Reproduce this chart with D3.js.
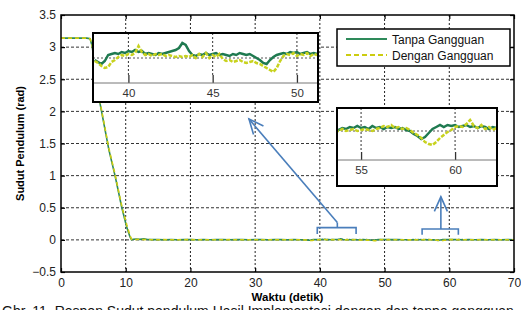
<!DOCTYPE html>
<html>
<head>
<meta charset="utf-8">
<script src="https://cdn.jsdelivr.net/npm/d3@7"></script>
<style>
  body { margin: 0; background: #fff; }
  svg { display: block; font-family: Arial, "Liberation Sans", sans-serif; }
</style>
</head>
<body>
<svg id="chart" width="521" height="310"></svg>
<script>
// ---- data (rad) ----
// transient: pendulum falls from pi to 0
var tDrop = [0, 4.0, 4.5, 4.8, 5.2, 6.0, 6.7, 7.4, 8.35, 9.4, 10.15, 10.65, 10.9, 11.2, 11.6, 12.2, 12.8, 13.4, 14.0];
var greenDrop = [3.14, 3.14, 3.13, 3.02, 2.75, 2.14, 1.77, 1.40, 1.00, 0.50, 0.20, 0.05, 0.00, 0.01, 0.012, 0.008, 0.015, 0.005, 0.004];
var yellowDrop = [3.14, 3.14, 3.13, 3.04, 2.78, 2.16, 1.79, 1.42, 1.02, 0.52, 0.24, 0.07, 0.01, 0.00, 0.005, 0.01, 0.004, 0.008, 0.002];

// steady part, sparse samples
var tTailA = [15, 16, 17, 18, 19, 20, 21, 22, 23, 24, 25, 26, 27, 28, 29, 30, 31, 32, 33, 34, 35, 36, 37];
var greenTailA = [0.004, 0.003, 0.005, 0.002, 0.004, 0.006, 0.003, 0.004, 0.002, 0.005, 0.004, 0.003, 0.006, 0.004, 0.003, 0.005, 0.004, 0.002, 0.004, 0.005, 0.003, 0.004, 0.002];
var yellowTailA = [0.002, 0.004, 0.001, 0.003, 0.002, 0.004, 0.001, 0.002, 0.003, 0.001, 0.002, 0.004, 0.002, 0.001, 0.003, 0.002, 0.001, 0.003, 0.002, 0.001, 0.002, 0.003, 0.001];

// zoomed window 1 (t = 38.0 .. 51.2, step 0.2)
var tZoom1 = [38.0, 38.2, 38.4, 38.6, 38.8, 39.0, 39.2, 39.4, 39.6, 39.8, 40.0, 40.2, 40.4, 40.6, 40.8, 41.0, 41.2, 41.4, 41.6, 41.8,
  42.0, 42.2, 42.4, 42.6, 42.8, 43.0, 43.2, 43.4, 43.6, 43.8, 44.0, 44.2, 44.4, 44.6, 44.8, 45.0, 45.2, 45.4, 45.6, 45.8,
  46.0, 46.2, 46.4, 46.6, 46.8, 47.0, 47.2, 47.4, 47.6, 47.8, 48.0, 48.2, 48.4, 48.6, 48.8, 49.0, 49.2, 49.4, 49.6, 49.8,
  50.0, 50.2, 50.4, 50.6, 50.8, 51.0, 51.2];
var greenZoom1 = [-0.002, -0.004, -0.006, -0.003, 0.003, 0.004, 0.005, 0.004, 0.006, 0.005, 0.007, 0.006, 0.008, 0.006, 0.007, 0.004, 0.005, 0.004, 0.003, 0.005,
  0.004, 0.005, 0.006, 0.007, 0.008, 0.010, 0.015, 0.013, 0.007, 0.003, 0.002, 0.004, 0.003, 0.005, 0.003, 0.004, 0.005, 0.003, 0.004, 0.003,
  0.002, 0.004, 0.003, 0.005, 0.004, 0.003, 0.004, 0.002, 0.000, -0.002, -0.005, -0.006, -0.002, 0.001, 0.003, 0.004, 0.005, 0.004, 0.006, 0.005,
  0.006, 0.004, 0.005, 0.006, 0.004, 0.005, 0.004];
var yellowZoom1 = [-0.003, -0.005, -0.008, -0.010, -0.009, -0.004, -0.002, 0.001, 0.003, 0.002, 0.004, 0.003, 0.005, 0.012, 0.006, 0.003, 0.004, 0.002, 0.004, 0.003,
  0.004, 0.002, 0.003, 0.002, 0.001, 0.002, 0.001, 0.002, 0.001, 0.003, 0.000, 0.004, 0.001, 0.005, 0.000, 0.003, 0.001, 0.004, -0.001, -0.003,
  -0.002, -0.004, -0.003, -0.002, -0.004, -0.005, -0.004, -0.003, -0.005, -0.006, -0.008, -0.010, -0.012, -0.014, -0.010, -0.003, 0.002, 0.004, 0.003, 0.005,
  0.002, 0.004, 0.003, 0.005, 0.002, 0.004, 0.003];

var tTailB = [52, 53];
var greenTailB = [0.004, 0.003];
var yellowTailB = [0.002, 0.001];

// zoomed window 2 (t = 53.6 .. 62.2, step 0.2)
var tZoom2 = [53.6, 53.8, 54.0, 54.2, 54.4, 54.6, 54.8, 55.0, 55.2, 55.4, 55.6, 55.8, 56.0, 56.2, 56.4, 56.6, 56.8, 57.0, 57.2, 57.4,
  57.6, 57.8, 58.0, 58.2, 58.4, 58.6, 58.8, 59.0, 59.2, 59.4, 59.6, 59.8, 60.0, 60.2, 60.4, 60.6, 60.8, 61.0, 61.2, 61.4,
  61.6, 61.8, 62.0, 62.2];
var greenZoom2 = [0.002, 0.001, 0.003, 0.002, 0.004, 0.003, 0.005, 0.003, 0.004, 0.002, 0.005, 0.003, 0.004, 0.002, 0.004, 0.003, 0.004, 0.002, 0.003, 0.001,
  0.000, -0.003, -0.005, -0.008, -0.006, -0.002, 0.002, 0.004, 0.006, 0.004, 0.006, 0.005, 0.006, 0.004, 0.005, 0.006, 0.004, 0.005, 0.003, 0.005,
  0.004, 0.002, 0.004, 0.003];
var yellowZoom2 = [0.001, 0.000, 0.002, 0.000, 0.001, 0.002, 0.000, 0.001, 0.002, 0.001, 0.000, 0.002, 0.003, 0.005, 0.004, 0.006, 0.003, 0.004, 0.002, 0.003,
  0.001, -0.002, -0.004, -0.007, -0.011, -0.013, -0.014, -0.011, -0.007, -0.004, -0.001, 0.001, 0.004, 0.005, 0.004, 0.007, 0.011, 0.005, 0.003, 0.006,
  0.002, 0.004, 0.001, 0.003];

var tTailC = [63, 64, 65, 66, 67, 68, 69, 70];
var greenTailC = [0.004, 0.003, 0.005, 0.002, 0.004, 0.003, 0.004, 0.003];
var yellowTailC = [0.002, 0.001, 0.003, 0.001, 0.002, 0.003, 0.001, 0.002];

var xTicks = [0, 10, 20, 30, 40, 50, 60, 70];
var yTicks = [-0.5, 0, 0.5, 1, 1.5, 2, 2.5, 3, 3.5];
var zoom1Ticks = [40, 45, 50];
var zoom2Ticks = [55, 60];
var seriesNames = ["Tanpa Gangguan", "Dengan Gangguan"];

var green = "#2e8a5a", yellow = "#cccc10", blue = "#4a7ebb";

function pairs(t, v) { return t.map(function(d, i) { return [d, v[i]]; }); }

var greenData = [].concat(pairs(tDrop, greenDrop), pairs(tTailA, greenTailA), pairs(tZoom1, greenZoom1),
  pairs(tTailB, greenTailB), pairs(tZoom2, greenZoom2), pairs(tTailC, greenTailC));
var yellowData = [].concat(pairs(tDrop, yellowDrop), pairs(tTailA, yellowTailA), pairs(tZoom1, yellowZoom1),
  pairs(tTailB, yellowTailB), pairs(tZoom2, yellowZoom2), pairs(tTailC, yellowTailC));

var svg = d3.select("#chart");

// main axes
var x = d3.scaleLinear().domain([0, 70]).range([61, 514]);
var y = d3.scaleLinear().domain([-0.5, 3.5]).range([272, 15]);

var grid = svg.append("g");
grid.selectAll(".gx").data(xTicks.slice(1, -1)).enter().append("line")
  .attr("x1", function(d) { return x(d); }).attr("x2", function(d) { return x(d); })
  .attr("y1", y(3.5)).attr("y2", y(-0.5))
  .attr("stroke", "#222").attr("stroke-dasharray", "2,2");
grid.selectAll(".gy").data(yTicks.slice(1, -1)).enter().append("line")
  .attr("x1", x(0)).attr("x2", x(70))
  .attr("y1", function(d) { return y(d); }).attr("y2", function(d) { return y(d); })
  .attr("stroke", "#333").attr("stroke-dasharray", "3,2");

var line = d3.line().x(function(d) { return x(d[0]); }).y(function(d) { return y(d[1]); });

svg.append("path").datum(greenData).attr("d", line)
  .attr("fill", "none").attr("stroke", green).attr("stroke-width", 1.6);
svg.append("path").datum(yellowData).attr("d", line)
  .attr("fill", "none").attr("stroke", yellow).attr("stroke-width", 1.6).attr("stroke-dasharray", "4,3");

// axis frame with inward ticks
function styleAxis(g) {
  g.select(".domain").remove();
  g.selectAll(".tick line").attr("stroke", "#000").attr("stroke-width", 1.2);
  g.selectAll("text").attr("fill", "#222").style("font-size", "12px");
}
svg.append("g").attr("transform", "translate(0," + y(-0.5) + ")")
  .call(d3.axisBottom(x).tickValues(xTicks).tickSizeInner(-4).tickSizeOuter(0).tickPadding(6))
  .call(styleAxis);
svg.append("g").attr("transform", "translate(0," + y(3.5) + ")")
  .call(d3.axisTop(x).tickValues(xTicks).tickSizeInner(-4).tickSizeOuter(0).tickFormat(""))
  .call(styleAxis);
svg.append("g").attr("transform", "translate(" + x(0) + ",0)")
  .call(d3.axisLeft(y).tickValues(yTicks).tickSizeInner(-4).tickSizeOuter(0).tickPadding(5).tickFormat(d3.format("")))
  .call(styleAxis);
svg.append("g").attr("transform", "translate(" + x(70) + ",0)")
  .call(d3.axisRight(y).tickValues(yTicks).tickSizeInner(-4).tickSizeOuter(0).tickFormat(""))
  .call(styleAxis);
svg.append("rect").attr("x", x(0)).attr("y", y(3.5))
  .attr("width", x(70) - x(0)).attr("height", y(-0.5) - y(3.5))
  .attr("fill", "none").attr("stroke", "#000").attr("stroke-width", 1.5);

svg.append("text").attr("x", (x(0) + x(70)) / 2).attr("y", 301)
  .attr("text-anchor", "middle").style("font-size", "11.5px").style("font-weight", "bold")
  .text("Waktu (detik)");
svg.append("text").attr("transform", "translate(24," + (y(3.5) + y(-0.5)) / 2 + ") rotate(-90)")
  .attr("text-anchor", "middle").style("font-size", "11px").style("font-weight", "bold")
  .text("Sudut Pendulum (rad)");

// caption, cut off by the bottom edge as in the source figure
svg.append("text").attr("x", 2).attr("y", 316)
  .style("font-size", "14px").attr("fill", "#111")
  .text("Gbr. 11. Respon Sudut pendulum Hasil Implementasi dengan dan tanpa gangguan");

// annotations (data units)
var bracket1 = { x0: 39.6, x1: 45.6, xm: 42.7, y: 0.19, yEnd: 0.09, yTop: 0.27 };
var bracket2 = { x0: 55.8, x1: 61.4, xm: 58.7, y: 0.17, yEnd: 0.08 };
var arrow1 = { from: [42.7, 0.27], to: [29.05, 1.88] };
var arrow2 = { from: [58.7, 0.17], to: [58.7, 0.67] };

var ann = svg.append("g").attr("stroke", blue).attr("stroke-width", 1.6).attr("fill", "none");
[bracket1, bracket2].forEach(function(b) {
  ann.append("path").attr("d",
    "M" + x(b.x0) + "," + y(b.yEnd) + "V" + y(b.y) + "H" + x(b.x1) + "V" + y(b.yEnd) +
    (b.yTop ? "M" + x(b.xm) + "," + y(b.y) + "V" + y(b.yTop) : ""));
});
function arrow(a) {
  var x1 = x(a.from[0]), y1 = y(a.from[1]), x2 = x(a.to[0]), y2 = y(a.to[1]);
  var ang = Math.atan2(y1 - y2, x1 - x2), len = 16, spread = 0.42;
  ann.append("line").attr("x1", x1).attr("y1", y1).attr("x2", x2).attr("y2", y2);
  ann.append("path").attr("d",
    "M" + (x2 + len * Math.cos(ang + spread)) + "," + (y2 + len * Math.sin(ang + spread)) +
    "L" + x2 + "," + y2 +
    "L" + (x2 + len * Math.cos(ang - spread)) + "," + (y2 + len * Math.sin(ang - spread)));
}
arrow(arrow1);
arrow(arrow2);

// zoom insets
function inset(id, box, axisY, xDomain, yDomain, ticks, tData, gData, yData) {
  var ix = d3.scaleLinear().domain(xDomain).range([box.x0, box.x1]);
  var iy = d3.scaleLinear().domain(yDomain).range([axisY, box.y0]);
  var g = svg.append("g");
  g.append("rect").attr("x", box.x0).attr("y", box.y0)
    .attr("width", box.x1 - box.x0).attr("height", box.y1 - box.y0).attr("fill", "#fff");
  g.append("clipPath").attr("id", id).append("rect")
    .attr("x", box.x0).attr("y", box.y0).attr("width", box.x1 - box.x0).attr("height", axisY - box.y0);
  var inner = g.append("g").attr("clip-path", "url(#" + id + ")");
  inner.append("line").attr("x1", box.x0).attr("x2", box.x1).attr("y1", iy(0)).attr("y2", iy(0))
    .attr("stroke", "#555").attr("stroke-dasharray", "2,2");
  inner.selectAll(".vg").data(ticks).enter().append("line")
    .attr("x1", function(d) { return ix(d); }).attr("x2", function(d) { return ix(d); })
    .attr("y1", box.y0).attr("y2", axisY - 8)
    .attr("stroke", "#333").attr("stroke-dasharray", "2,2");
  var il = d3.line().x(function(d, i) { return ix(tData[i]); }).y(function(d) { return iy(d); });
  inner.append("path").datum(gData).attr("d", il)
    .attr("fill", "none").attr("stroke", "#1f7a50").attr("stroke-width", 2.5);
  inner.append("path").datum(yData).attr("d", il)
    .attr("fill", "none").attr("stroke", "#c8d21e").attr("stroke-width", 2.5).attr("stroke-dasharray", "4,1.5");
  var ax = g.append("g").attr("transform", "translate(0," + axisY + ")")
    .call(d3.axisBottom(ix).tickValues(ticks).tickSizeInner(-8).tickSizeOuter(0).tickPadding(6));
  ax.select(".domain").remove();
  ax.selectAll(".tick line").attr("stroke", "#333").attr("stroke-width", 1.3);
  ax.selectAll("text").attr("fill", "#333").style("font-size", "11.5px");
  g.append("line").attr("x1", box.x0).attr("x2", box.x1).attr("y1", axisY).attr("y2", axisY)
    .attr("stroke", "#777").attr("stroke-width", 1);
  g.append("rect").attr("x", box.x0).attr("y", box.y0)
    .attr("width", box.x1 - box.x0).attr("height", box.y1 - box.y0)
    .attr("fill", "none").attr("stroke", "#000").attr("stroke-width", 2);
}
inset("clip1", { x0: 93, x1: 318, y0: 33, y1: 102 }, 83, [37.9, 51.25], [-0.025, 0.025], zoom1Ticks, tZoom1, greenZoom1, yellowZoom1);
inset("clip2", { x0: 337, x1: 497, y0: 108, y1: 186 }, 160, [53.72, 62.23], [-0.029, 0.023], zoom2Ticks, tZoom2, greenZoom2, yellowZoom2);

// legend
var legend = svg.append("g");
legend.append("rect").attr("x", 337).attr("y", 29).attr("width", 173).attr("height", 37)
  .attr("fill", "#fff").attr("stroke", "#000").attr("stroke-width", 1.5);
seriesNames.forEach(function(name, i) {
  var ly = 39 + i * 16;
  legend.append("line").attr("x1", 346).attr("x2", 387).attr("y1", ly).attr("y2", ly)
    .attr("stroke", i === 0 ? green : yellow).attr("stroke-width", 1.8)
    .attr("stroke-dasharray", i === 0 ? null : "5,3");
  legend.append("text").attr("x", 392).attr("y", ly + 4.5)
    .style("font-size", "12px").attr("fill", "#111").text(name);
});
</script>
</body>
</html>
